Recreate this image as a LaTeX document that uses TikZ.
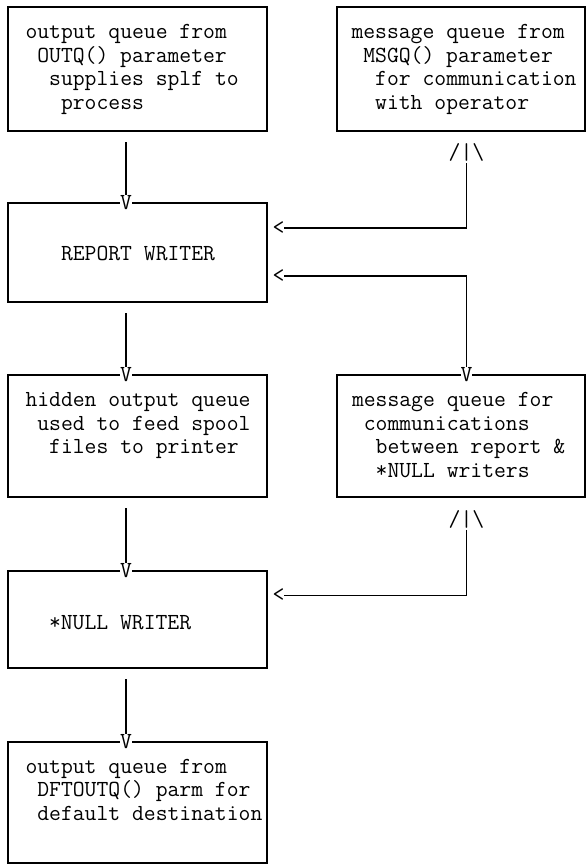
\documentclass[tikz,border=0pt]{standalone}
\usetikzlibrary{calc}
\newcommand\sk{\phantom{x}}
\newcommand\lnstrut{\rule{0pt}{16.5pt}}
\tikzset{
  box/.style={draw, line width=1.3pt, anchor=north west, inner sep=0pt, outer sep=0pt},
  boxtext/.style={anchor=north west, inner sep=0pt, outer sep=0pt, align=left,
    font=\ttfamily\fontsize{23}{23.5}\selectfont},
  glyph/.style={inner sep=0pt, outer sep=0pt, font=\ttfamily\fontsize{23}{23.5}\selectfont},
  vhead/.style={glyph, fill=white, anchor=base},
  conn/.style={line width=1.3pt},
}
\begin{document}
\begin{tikzpicture}[x=1pt, y=-1pt]
\useasboundingbox (0,0) rectangle (587,865);

% boxes
\node[box, minimum width=259pt, minimum height=124pt] (b1) at (8,7) {};
\node[box, minimum width=248pt, minimum height=124pt] (b2) at (337,7) {};
\node[box, minimum width=259pt, minimum height=99pt]  (b3) at (8,203) {};
\node[box, minimum width=259pt, minimum height=122pt] (b4) at (8,375) {};
\node[box, minimum width=248pt, minimum height=122pt] (b5) at (337,375) {};
\node[box, minimum width=259pt, minimum height=97pt]  (b6) at (8,571) {};
\node[box, minimum width=259pt, minimum height=121pt] (b7) at (8,742) {};

% texts
\node[boxtext] (t1) at (25.5,22) {\lnstrut output queue from\\
  \sk OUTQ() parameter\\
  \sk\sk supplies splf to\\
  \sk\sk\sk process};
\node[boxtext] (t2) at (351.5,22) {\lnstrut message queue from\\
  \sk MSGQ() parameter\\
  \sk\sk for communication\\
  \sk\sk with operator};
\node[boxtext] (t3) at (61,243.5) {\lnstrut REPORT WRITER};
\node[boxtext] (t4) at (25.5,390) {\lnstrut hidden output queue\\
  \sk used to feed spool\\
  \sk\sk files to printer};
\node[boxtext] (t5) at (352,390) {\lnstrut message queue for\\
  \sk communications\\
  \sk\sk between report \&\\
  \sk\sk *NULL writers};
\node[boxtext] (t6) at (49,612.5) {\lnstrut *NULL WRITER};
\node[boxtext] (t7) at (25.5,756.5) {\lnstrut output queue from\\
  \sk DFTOUTQ() parm for\\
  \sk default destination};

% arrow heads drawn as characters
\node[vhead] (v1) at (126,209) {V};
\node[vhead] (v2) at (126,381) {V};
\node[vhead] (v3) at (126,577) {V};
\node[vhead] (v4) at (466.5,381) {V};
\node[vhead] (v5) at (126,748) {V};
\node[glyph, anchor=base] (up1) at (466.5,159.5) {/|\textbackslash};
\node[glyph, anchor=base] (up2) at (466.5,526) {/|\textbackslash};
\node[glyph] (lt1) at (278.5,228) {<};
\node[glyph] (lt2) at (278.5,276) {<};
\node[glyph] (lt3) at (278.5,595.5) {<};

% connectors
\draw[conn] ($(v1.north |- b1.south)+(0,11)$) -- (v1.north);
\draw[conn] ($(v2.north |- b3.south)+(0,11)$) -- (v2.north);
\draw[conn] ($(v3.north |- b4.south)+(0,11)$) -- (v3.north);
\draw[conn] ($(v5.north |- b6.south)+(0,11)$) -- (v5.north);
\draw[conn] ([yshift=-2pt]up1.south) |- (lt1.east);
\draw[conn] (lt2.east) -| (v4.north);
\draw[conn] ([yshift=-2pt]up2.south) |- (lt3.east);
\end{tikzpicture}
\end{document}
